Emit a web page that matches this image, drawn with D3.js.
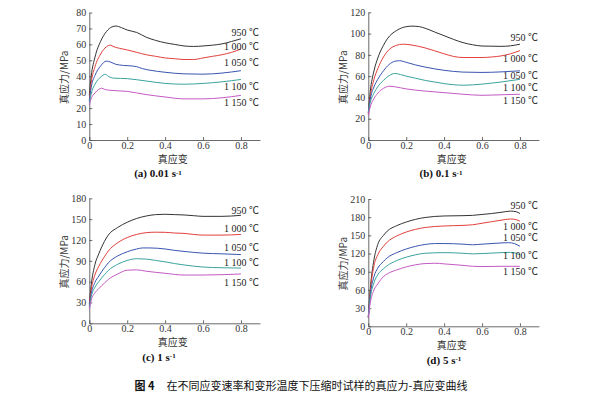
<!DOCTYPE html>
<html lang="zh">
<head>
<meta charset="UTF-8">
<title>真应力-真应变曲线</title>
<script src="https://d3js.org/d3.v7.min.js"></script>
<style>
    body { margin: 0; background: #fff; }
    .tick text { font-family: "Liberation Serif", serif; font-size: 10px; fill: #333; }
    .tick line, .domain { stroke: #444; stroke-width: 0.8px; }
    path.curve { fill: none; stroke-width: 1px; }
    .lbl { font-family: "Liberation Serif", "Noto Sans CJK SC", serif; font-size: 10px; fill: #222; }
    .ttl { font-family: "Noto Sans CJK SC", sans-serif; font-size: 10px; fill: #333; }
    .cap { font-family: "Liberation Serif", serif; font-size: 11px; font-weight: bold; fill: #111; }
    .fig { font-family: "Noto Sans CJK SC", sans-serif; font-size: 11px; fill: #111; }
</style>
</head>
<body>
<svg width="601" height="395"></svg>
<script>
// temperatures and colours of the five curves
let temps = ["950 ℃", "1 000 ℃", "1 050 ℃", "1 100 ℃", "1 150 ℃"];
let colors = ["#333333", "#e2403c", "#3a55b0", "#3aa39e", "#c45ac4"];
let xTicks = [0, 0.2, 0.4, 0.6, 0.8];

// (a) 0.01 s-1
let a950 = [[0,28],[0.01,40],[0.03,52],[0.06,62],[0.09,68],[0.12,71],[0.14,71.5],[0.17,70.5],[0.2,69],[0.25,67.5],[0.3,64.5],[0.35,62.5],[0.4,61],[0.45,60],[0.5,59],[0.55,58.7],[0.6,59],[0.65,59.5],[0.7,60.3],[0.75,61.8],[0.8,63.5]];
let a1000 = [[0,25],[0.01,36],[0.03,46],[0.06,54],[0.09,58.5],[0.11,59.5],[0.13,58.5],[0.16,57.5],[0.2,56.5],[0.25,55],[0.3,53.5],[0.35,52.5],[0.4,51.5],[0.45,51],[0.5,50.5],[0.55,50.5],[0.6,51.5],[0.65,52.5],[0.7,53.5],[0.75,55],[0.8,57]];
let a1050 = [[0,24],[0.01,33],[0.03,40.5],[0.06,46.5],[0.09,49.5],[0.11,49],[0.14,47.5],[0.18,46.8],[0.22,46.5],[0.25,46],[0.28,44.8],[0.32,43.8],[0.4,42.5],[0.5,41.5],[0.6,41.3],[0.7,42],[0.8,43.5]];
let a1100 = [[0,23],[0.01,29],[0.03,35],[0.06,39.5],[0.085,41.2],[0.1,40],[0.13,38.8],[0.2,38.5],[0.3,37],[0.4,35.5],[0.5,35],[0.6,35.5],[0.7,36.5],[0.8,38]];
let a1150 = [[0,22],[0.01,26],[0.03,29.5],[0.05,31.8],[0.065,32.5],[0.08,31.8],[0.1,31.3],[0.2,30.5],[0.3,28.5],[0.4,27],[0.5,25.8],[0.6,25.8],[0.7,26.5],[0.8,28]];
let aLabelY = [67.2, 58.5, 48.6, 33.8, 23.4];
let aYTicks = [0,10,20,30,40,50,60,70,80];

// (b) 0.1 s-1
let b950 = [[0,25],[0.01,45],[0.03,65],[0.05,77],[0.08,89],[0.1,95],[0.15,103],[0.2,106.5],[0.23,107],[0.27,106.5],[0.3,105],[0.35,101.5],[0.4,98],[0.45,94.5],[0.5,91.5],[0.55,89.5],[0.6,88.3],[0.7,88],[0.75,88.5],[0.8,90]];
let b1000 = [[0,24],[0.01,40],[0.03,57],[0.05,67],[0.08,78],[0.11,85],[0.15,89],[0.18,90],[0.22,89.5],[0.3,86.5],[0.4,81],[0.45,78.5],[0.5,77.5],[0.6,77.5],[0.65,78],[0.7,79],[0.75,81],[0.8,84]];
let b1050 = [[0,26],[0.01,38],[0.03,50],[0.05,57],[0.08,65],[0.11,71],[0.14,74],[0.165,74.5],[0.2,73],[0.25,70.5],[0.3,68.5],[0.4,65.5],[0.5,63.8],[0.6,63.5],[0.7,64],[0.8,65]];
let b1100 = [[0,26],[0.01,35],[0.03,44],[0.05,50],[0.08,56],[0.11,60.5],[0.14,62.5],[0.17,61.5],[0.2,60],[0.25,58],[0.3,56],[0.35,54.5],[0.4,53],[0.5,51.5],[0.55,51.8],[0.6,52.5],[0.7,54.5],[0.8,57]];
let b1150 = [[0,23],[0.01,31],[0.03,39],[0.05,44],[0.08,48.5],[0.11,50.5],[0.14,50],[0.2,48],[0.3,46],[0.4,44.5],[0.5,43],[0.6,42],[0.7,42.5],[0.8,43]];
let bLabelY = [96.2, 76.2, 60.4, 49.3, 37];
let bYTicks = [0,20,40,60,80,100,120];

// (c) 1 s-1
let c950 = [[0,28],[0.01,55],[0.03,85],[0.05,100],[0.08,118],[0.1,127],[0.15,138],[0.2,145.5],[0.25,151],[0.3,154.5],[0.35,156.5],[0.4,157],[0.45,156.5],[0.5,156],[0.55,155],[0.6,154],[0.7,154],[0.8,155.5]];
let c1000 = [[0,26],[0.01,48],[0.03,70],[0.05,82],[0.08,96],[0.1,104],[0.15,116],[0.2,123.5],[0.25,128],[0.3,130.5],[0.35,131.2],[0.4,131],[0.45,130],[0.5,129.5],[0.55,128],[0.6,127],[0.7,127],[0.8,128]];
let c1050 = [[0,24],[0.01,42],[0.03,59],[0.05,68],[0.08,80],[0.1,87],[0.15,97],[0.2,103],[0.25,107],[0.28,108.5],[0.32,108.5],[0.4,107],[0.45,105],[0.5,103.5],[0.6,101],[0.7,100],[0.8,99]];
let c1100 = [[0,22],[0.01,38],[0.03,52],[0.05,60],[0.08,70],[0.1,76],[0.15,85],[0.2,90.5],[0.25,93],[0.3,92.5],[0.35,90.5],[0.4,88.5],[0.45,86],[0.5,84],[0.6,81],[0.7,80],[0.8,79.5]];
let c1150 = [[0,20],[0.01,33],[0.03,44],[0.05,50],[0.08,58],[0.1,63],[0.15,71],[0.2,76.5],[0.25,77],[0.3,75],[0.4,72],[0.5,69.5],[0.6,69.5],[0.7,70],[0.8,71]];
let cLabelY = [163, 136.8, 109.5, 87.4, 59];
let cYTicks = [0,30,60,90,120,150,180];

// (d) 5 s-1
let d950 = [[0,15],[0.01,60],[0.03,110],[0.05,135],[0.08,150],[0.1,157],[0.15,166],[0.2,172],[0.25,176.5],[0.3,179.5],[0.4,182],[0.5,182.5],[0.55,183],[0.6,184.5],[0.65,186],[0.7,188],[0.75,190],[0.78,189],[0.8,186]];
let d1000 = [[0,15],[0.01,55],[0.03,100],[0.05,118],[0.08,132],[0.1,139],[0.15,149],[0.2,155.5],[0.25,160],[0.3,163],[0.4,165.5],[0.5,166.5],[0.55,167.5],[0.6,170],[0.65,172.5],[0.7,175],[0.75,177],[0.78,176],[0.8,173.5]];
let d1050 = [[0,15],[0.01,50],[0.03,82],[0.05,96],[0.08,107],[0.1,113],[0.15,121.5],[0.2,127.5],[0.25,132],[0.3,135],[0.35,136.5],[0.4,136.5],[0.5,135.5],[0.55,134.5],[0.6,135.5],[0.7,137.5],[0.74,138],[0.77,136.5],[0.8,132]];
let d1100 = [[0,15],[0.01,45],[0.03,72],[0.05,85],[0.08,95],[0.1,100],[0.15,108.5],[0.2,114],[0.25,118],[0.3,120.5],[0.4,121.5],[0.5,120.5],[0.55,119.5],[0.6,120],[0.7,121.5],[0.75,122],[0.78,120.5],[0.8,118]];
let d1150 = [[0,14],[0.01,38],[0.03,60],[0.05,70],[0.08,82],[0.1,86.5],[0.15,93],[0.2,98],[0.25,101.5],[0.3,103.5],[0.35,104],[0.4,103],[0.5,100.5],[0.55,99],[0.6,98.5],[0.7,99],[0.8,99]];
let dLabelY = [198.5, 164, 147, 116, 90];
let dYTicks = [0,30,60,90,120,150,180,210];

let captions = [["(a) 0.01 s", "-1"], ["(b) 0.1 s", "-1"], ["(c) 1 s", "-1"], ["(d) 5 s", "-1"]];

let panels = [
    {series: [a950,a1000,a1050,a1100,a1150], labelY: aLabelY, yTicks: aYTicks, cap: captions[0],
     left: 89.3, top: 12.5, bottom: 140, capX: 158},
    {series: [b950,b1000,b1050,b1100,b1150], labelY: bLabelY, yTicks: bYTicks, cap: captions[1],
     left: 368.3, top: 12.3, bottom: 140, capX: 441},
    {series: [c950,c1000,c1050,c1100,c1150], labelY: cLabelY, yTicks: cYTicks, cap: captions[2],
     left: 89.3, top: 198.3, bottom: 323.3, capX: 159},
    {series: [d950,d1000,d1050,d1100,d1150], labelY: dLabelY, yTicks: dYTicks, cap: captions[3],
     left: 368.3, top: 199, bottom: 326.3, capX: 444}
];

let svg = d3.select('svg');
let plotW = 170.6;

panels.forEach(function (p) {
    let xscale = d3.scaleLinear().domain([0, 0.9]).range([p.left, p.left + plotW]);
    let yscale = d3.scaleLinear().domain([0, d3.max(p.yTicks)]).range([p.bottom, p.top]);

    svg.append('g')
        .attr('transform', 'translate(0,' + p.bottom + ')')
        .call(d3.axisBottom(xscale).tickValues(xTicks).tickFormat(d3.format('')).tickSizeInner(-3).tickSizeOuter(0).tickPadding(2));
    svg.append('g')
        .attr('transform', 'translate(' + p.left + ',0)')
        .call(d3.axisLeft(yscale).tickValues(p.yTicks).tickSizeInner(-3).tickSizeOuter(0).tickPadding(3));

    let line = d3.line()
        .x(function (d) { return xscale(d[0]) })
        .y(function (d) { return yscale(d[1]) })
        .curve(d3.curveMonotoneX);

    p.series.forEach(function (s, i) {
        svg.append('path').attr('class', 'curve')
            .attr('d', line(s))
            .attr('stroke', colors[i]);
        svg.append('text').attr('class', 'lbl')
            .attr('x', xscale(0.9) - 1)
            .attr('y', yscale(p.labelY[i]))
            .attr('dy', '0.35em')
            .attr('text-anchor', 'end')
            .text(temps[i]);
    });

    // axis titles
    let ty = (p.top + p.bottom) / 2;
    svg.append('text').attr('class', 'ttl')
        .attr('transform', 'translate(' + (p.left - 25) + ',' + (ty + 1) + ') rotate(-90)')
        .attr('text-anchor', 'middle')
        .attr('dy', '0.35em')
        .text('真应力/MPa');
    svg.append('text').attr('class', 'ttl')
        .attr('x', xscale(0.44))
        .attr('y', p.bottom + 19.5)
        .attr('dy', '0.35em')
        .attr('text-anchor', 'middle')
        .text('真应变');

    let cap = svg.append('text').attr('class', 'cap')
        .attr('x', p.capX)
        .attr('y', p.bottom + 33.5)
        .attr('dy', '0.35em')
        .attr('text-anchor', 'middle');
    cap.append('tspan').text(p.cap[0]);
    cap.append('tspan').attr('dy', '-0.4em').attr('font-size', '7px').text(p.cap[1]);
});

let fig = svg.append('text').attr('class', 'fig')
    .attr('x', 301).attr('y', 386).attr('dy', '0.35em')
    .attr('text-anchor', 'middle');
fig.append('tspan').attr('font-weight', 'bold').text('图 4');
fig.append('tspan').attr('dx', 12).text('在不同应变速率和变形温度下压缩时试样的真应力-真应变曲线');
</script>
</body>
</html>
